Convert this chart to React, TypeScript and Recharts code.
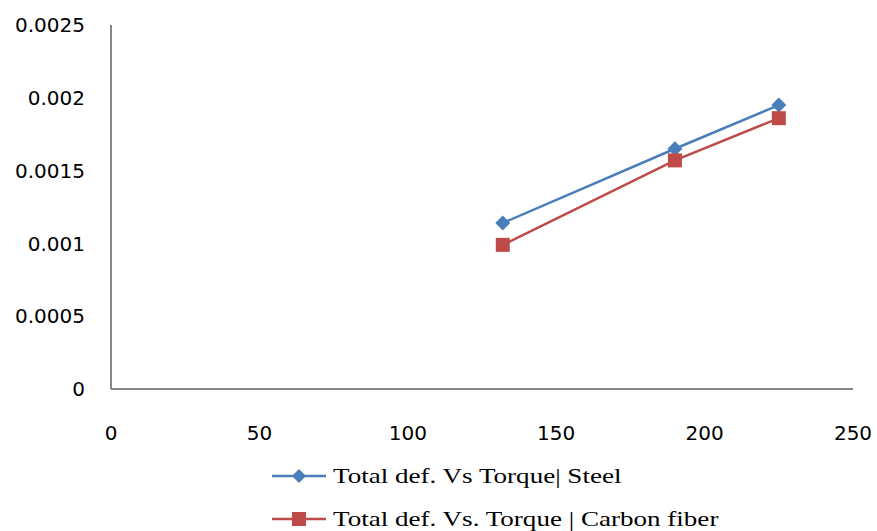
import React from 'react';
import { LineChart, Line, XAxis, YAxis } from 'recharts';

const torque = [132, 190, 225];
const steelDef = [0.00114, 0.00165, 0.00195];
const carbonDef = [0.00099, 0.00157, 0.00186];
const xTicks = [0, 50, 100, 150, 200, 250];
const yTicks = [0, 0.0005, 0.001, 0.0015, 0.002, 0.0025];
const seriesNames = ['Total def. Vs Torque| Steel', 'Total def. Vs. Torque | Carbon fiber'];

const STEEL = '#4a7ebb';
const CARBON = '#be4b48';

const data = torque.map((t, i) => ({ torque: t, steel: steelDef[i], carbon: carbonDef[i] }));

const Diamond = (props: any) => {
    const { cx, cy } = props;
    if (cx == null || cy == null) return null;
    const r = 7.5;
    return <polygon points={`${cx},${cy - r} ${cx + r},${cy} ${cx},${cy + r} ${cx - r},${cy}`} fill={STEEL} />;
};

const Square = (props: any) => {
    const { cx, cy } = props;
    if (cx == null || cy == null) return null;
    return <rect x={cx - 7} y={cy - 7} width={14} height={14} fill={CARBON} />;
};

const tickStyle = { fill: '#000', fontSize: 20, fontFamily: '"DejaVu Sans", sans-serif' };

const LegendBox = () => {
    const items = [
        { label: seriesNames[0], color: STEEL, shape: 'diamond' },
        { label: seriesNames[1], color: CARBON, shape: 'square' },
    ];
    return (
        <div style={{ position: 'absolute', left: 272, top: 454, fontFamily: '"Liberation Serif", serif', fontSize: 22, color: '#000' }}>
            {items.map((it) => (
                <div key={it.label} style={{ display: 'flex', alignItems: 'center', height: 43, whiteSpace: 'nowrap' }}>
                    <svg width={55} height={20} style={{ marginRight: 6 }}>
                        <line x1={0} y1={10} x2={54} y2={10} stroke={it.color} strokeWidth={2.5} />
                        {it.shape === 'diamond'
                            ? <polygon points="27,3 34,10 27,17 20,10" fill={it.color} />
                            : <rect x={20} y={3} width={14} height={14} fill={it.color} />}
                    </svg>
                    <span style={{ display: 'inline-block', transform: 'scaleX(1.23)', transformOrigin: 'left center' }}>{it.label}</span>
                </div>
            ))}
        </div>
    );
};

export default function App() {
    return (
        <div style={{ position: 'absolute', left: 0, top: 0, width: 877, height: 531, background: '#fff' }}>
            <LineChart width={877} height={531} data={data}
                margin={{ top: 25, right: 24, left: 0, bottom: 82 }}>
                <XAxis
                    dataKey="torque"
                    type="number"
                    domain={[0, 250]}
                    ticks={xTicks}
                    height={60}
                    tickLine={false}
                    tickSize={0}
                    tickMargin={37}
                    axisLine={{ stroke: '#868686', strokeWidth: 2 }}
                    tick={tickStyle}
                    interval={0}
                />
                <YAxis
                    type="number"
                    domain={[0, 0.0025]}
                    ticks={yTicks}
                    width={111}
                    tickLine={false}
                    tickSize={0}
                    tickMargin={26}
                    axisLine={{ stroke: '#868686', strokeWidth: 2 }}
                    tick={tickStyle}
                    tickFormatter={(v) => String(v)}
                    interval={0}
                />
                <Line type="linear" dataKey="steel" stroke={STEEL} strokeWidth={2.5}
                    dot={<Diamond />} activeDot={false} isAnimationActive={false} />
                <Line type="linear" dataKey="carbon" stroke={CARBON} strokeWidth={2.5}
                    dot={<Square />} activeDot={false} isAnimationActive={false} />
            </LineChart>
            <LegendBox />
        </div>
    );
}
